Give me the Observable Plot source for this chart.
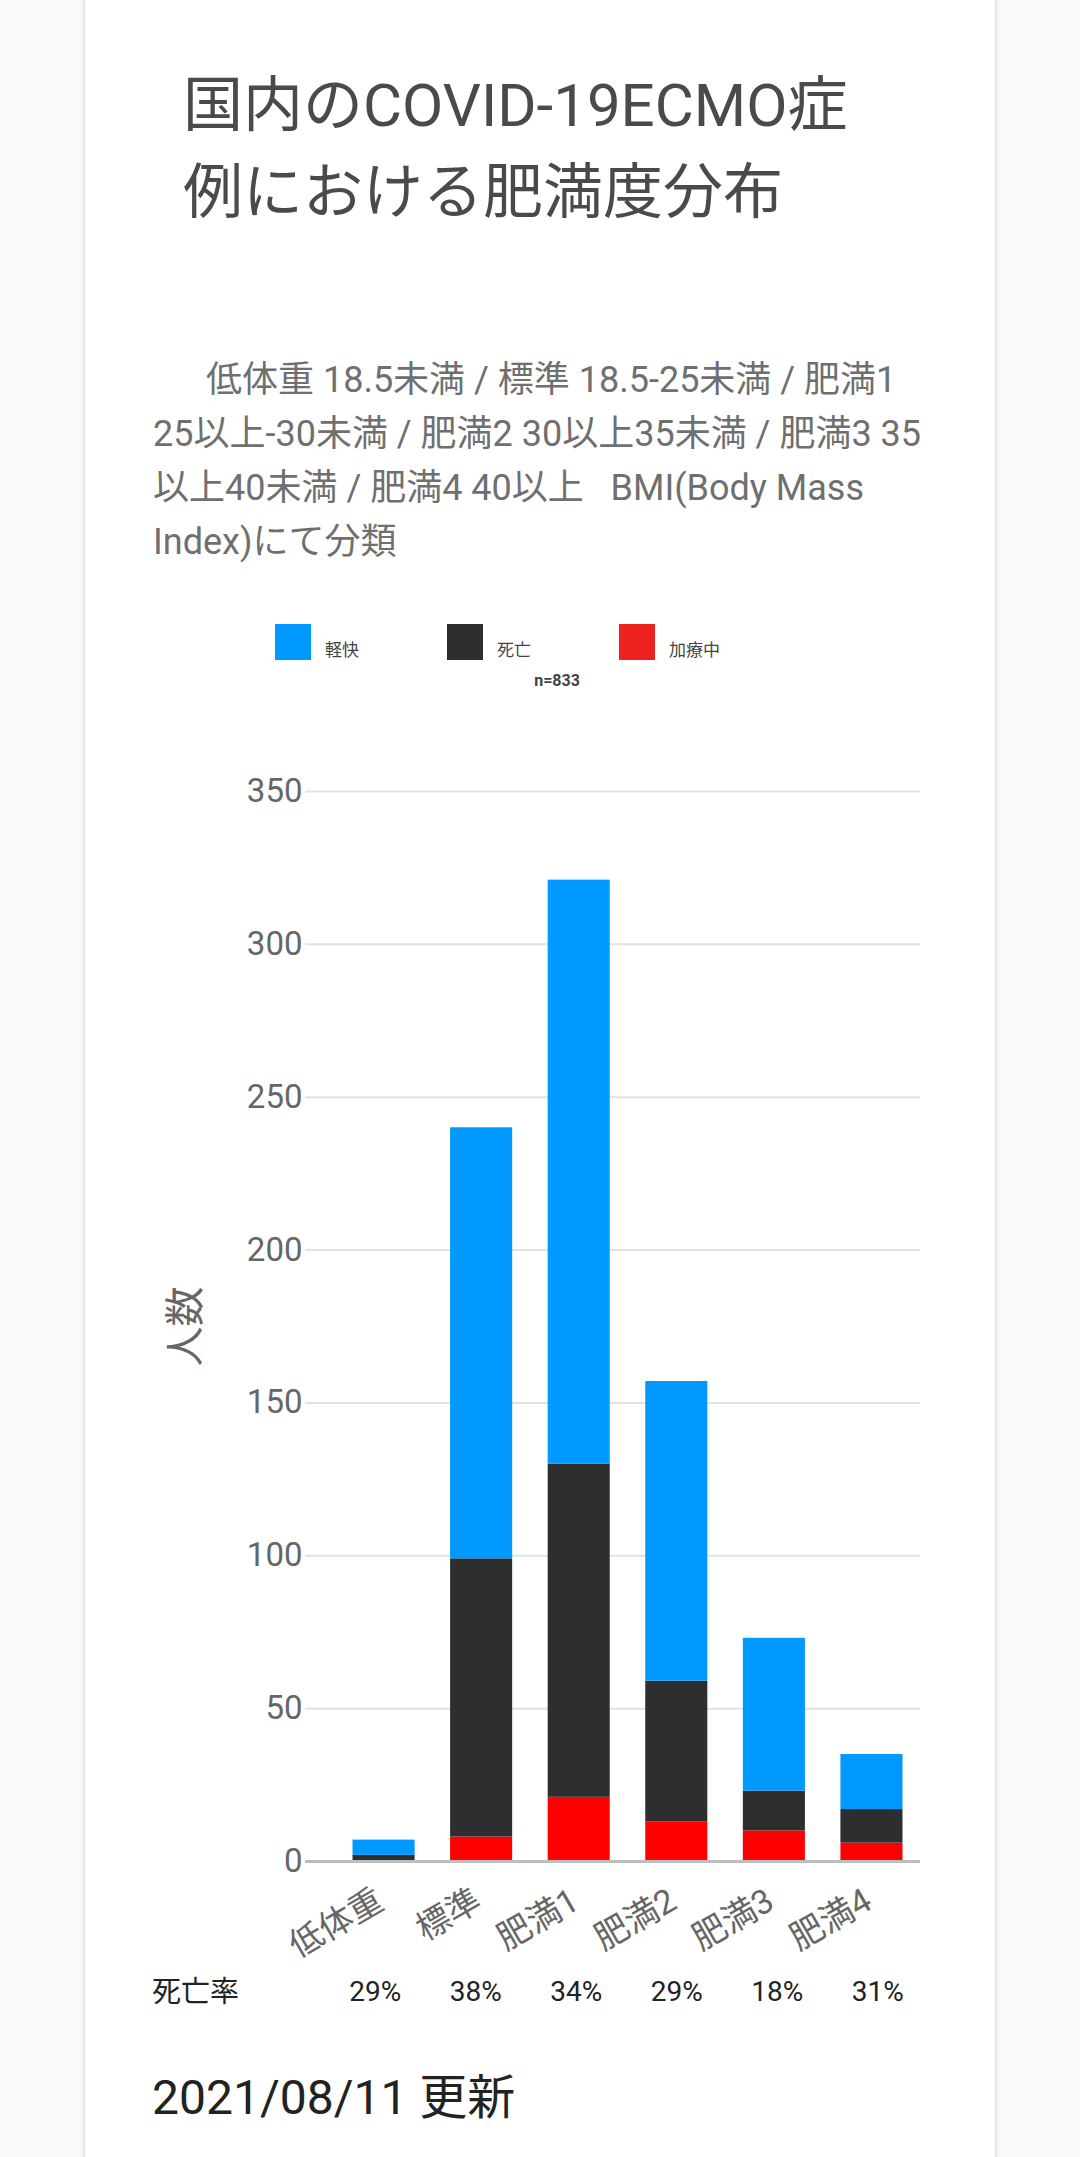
<!DOCTYPE html>
<html lang="ja">
<head>
<meta charset="utf-8">
<script src="https://cdn.jsdelivr.net/npm/d3@7"></script>
<script src="https://cdn.jsdelivr.net/npm/@observablehq/plot@0.6"></script>
<style>
  html, body { margin: 0; padding: 0; }
  body { width: 1080px; height: 2157px; background: #f8f9fa; position: relative; overflow: hidden;
         font-family: Roboto, "Noto Sans CJK JP", "Noto Sans", sans-serif; }
  #card { position: absolute; left: 85px; top: -10px; width: 910px; height: 2200px; background: #fff;
          border-radius: 8px; box-shadow: 0 1px 5px rgba(0,0,0,0.18); }
  #title { position: absolute; left: 183px; top: 62px; font-size: 60px; line-height: 87px; color: #4a4a4a;
           white-space: nowrap; }
  #subtitle { position: absolute; left: 153px; top: 353px; font-size: 36px; line-height: 54px; color: #6f6f6f;
              white-space: nowrap; }
  #legend { position: absolute; left: 0; top: 0; }
  .sw { position: absolute; top: 624px; width: 36px; height: 36px; }
  .lab { position: absolute; top: 640px; font-size: 17px; line-height: 20px; color: #444; white-space: nowrap; }
  #n { position: absolute; left: 507px; width: 100px; top: 670px; text-align: center; font-size: 16px;
       font-weight: bold; color: #444; line-height: 22px; }
  #chart { position: absolute; left: 0; top: 740px; }
  #rateLabel { position: absolute; left: 152px; top: 1972px; font-size: 29px; line-height: 40px; color: #222; }
  #rates { position: absolute; left: 325px; top: 1972px; width: 603px; display: flex; }
  #rates span { flex: 1; text-align: center; font-size: 28px; line-height: 40px; color: #222; }
  #date { position: absolute; left: 152px; top: 2068px; font-size: 48px; line-height: 60px; color: #222; }
</style>
</head>
<body>
<div id="card"></div>
<div id="title">国内のCOVID-19ECMO症<br>例における肥満度分布</div>
<div id="subtitle"><span style="padding-left:53px"></span>低体重 18.5未満 / 標準 18.5-25未満 / 肥満1<br>25以上-30未満 / 肥満2 30以上35未満 / 肥満3 35<br>以上40未満 / 肥満4 40以上&nbsp;&nbsp;&nbsp;BMI(Body Mass<br>Index)にて分類</div>
<div id="legend"></div>
<div id="n">n=833</div>
<div id="chart"></div>
<div id="rateLabel">死亡率</div>
<div id="rates"></div>
<div id="date">2021/08/11 更新</div>
<script>
// ---- data ----
const categories = ["低体重", "標準", "肥満1", "肥満2", "肥満3", "肥満4"];
const recovered = [5, 141, 191, 98, 50, 18];   // 軽快
const deaths = [2, 91, 109, 46, 13, 11];       // 死亡
const treating = [0, 8, 21, 13, 10, 6];        // 加療中
const seriesNames = ["軽快", "死亡", "加療中"];
const seriesColors = ["#0099ff", "#2e2e2e", "#ff0000"];
const legendColors = ["#0099ff", "#2e2e2e", "#ef2222"];
const yTicks = [0, 50, 100, 150, 200, 250, 300, 350];
const deathRateLabels = ["29%", "38%", "34%", "29%", "18%", "31%"];

// tidy rows, bottom-to-top stacking order: 加療中, 死亡, 軽快
const rows = categories.flatMap((c, i) => [
  {cat: c, series: "加療中", value: treating[i]},
  {cat: c, series: "死亡", value: deaths[i]},
  {cat: c, series: "軽快", value: recovered[i]}
]);

// legend
const legend = document.getElementById("legend");
seriesNames.forEach((s, i) => {
  const sw = document.createElement("div");
  sw.className = "sw";
  sw.style.left = (275 + i * 172) + "px";
  sw.style.background = legendColors[i];
  legend.appendChild(sw);
  const lab = document.createElement("div");
  lab.className = "lab";
  lab.style.left = (325 + i * 172) + "px";
  lab.textContent = s;
  legend.appendChild(lab);
});

// death rates row
const rates = document.getElementById("rates");
deathRateLabels.forEach(t => {
  const sp = document.createElement("span");
  sp.textContent = t;
  rates.appendChild(sp);
});

const font = 'Roboto, "Noto Sans CJK JP", sans-serif';
const chart = Plot.plot({
  width: 1080,
  height: 1230,
  marginTop: 51,
  marginBottom: 109,
  marginLeft: 305,
  marginRight: 160,
  style: {background: "transparent", fontFamily: font, overflow: "visible"},
  x: {domain: categories, range: [317, 938], padding: 0.364, round: false, axis: null},
  y: {domain: [0, 350], axis: null},
  color: {domain: seriesNames, range: seriesColors},
  marks: [
    Plot.ruleY(yTicks.filter(d => d > 0), {stroke: "#e2e2e2", strokeWidth: 2}),
    Plot.axisY(yTicks, {tickSize: 0, tickPadding: 3, fontSize: 33, fill: "#666", label: null}),
    Plot.barY(rows, {x: "cat", y: "value", fill: "series"}),
    Plot.ruleY([0], {stroke: "#bdbdbd", strokeWidth: 3}),
    Plot.text(categories, {x: d => d, y: d => 0, text: d => d, dy: 46, dx: 2, rotate: -30,
      textAnchor: "end", lineAnchor: "bottom", fontSize: 34, fill: "#666"}),
    Plot.text(["人数"], {text: d => d, frameAnchor: "left", dx: -119, rotate: -90,
      textAnchor: "middle", lineAnchor: "middle", fontSize: 40, fill: "#666"})
  ]
});
document.getElementById("chart").appendChild(chart);
</script>
</body>
</html>
